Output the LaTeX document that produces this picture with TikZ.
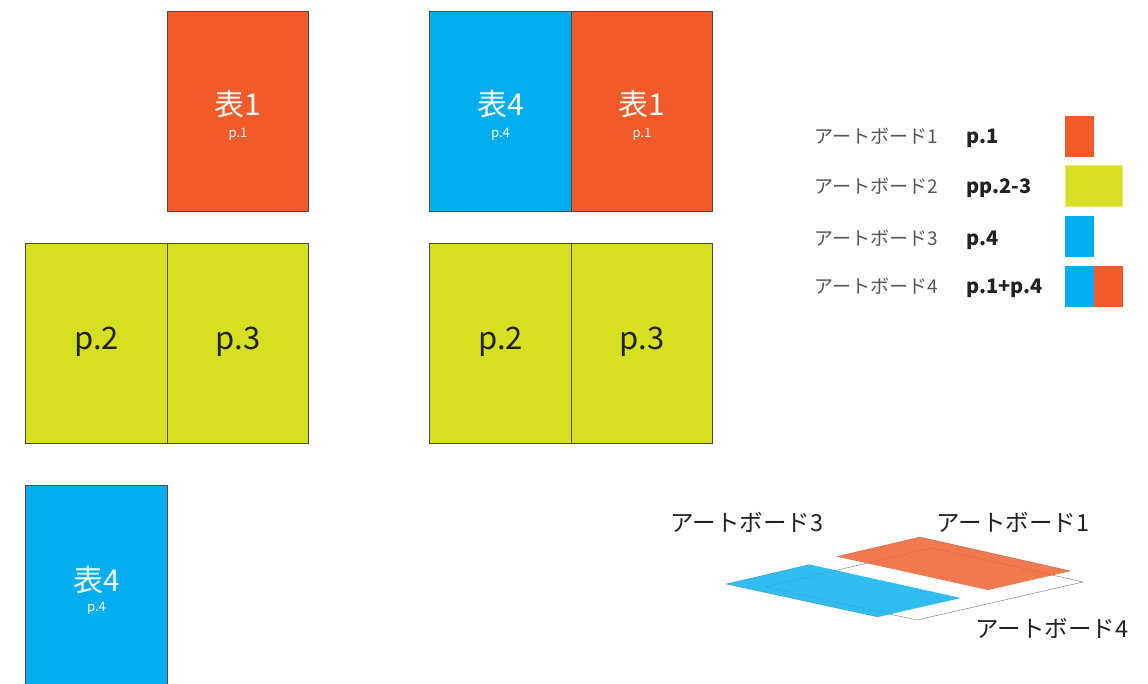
\documentclass[tikz,border=0pt]{standalone}
\usepackage{fontspec}
\setmainfont{Noto Sans CJK JP}
\definecolor{cor}{HTML}{F15A29}
\definecolor{cbl}{HTML}{00AEEF}
\definecolor{cye}{HTML}{D7DF23}
\definecolor{isor}{HTML}{EE6638}
\definecolor{isbl}{HTML}{14B4EE}
\definecolor{edge}{HTML}{4A4A4A}
\definecolor{legtxt}{HTML}{555555}
\definecolor{dark}{HTML}{222222}
\begin{document}
\begin{tikzpicture}[x=1pt,y=-1pt,
  pagebox/.style={draw=edge, line width=0.7pt, inner sep=0, minimum width=141.5pt, minimum height=200pt},
  bigw/.style={text=white, inner sep=0, font=\fontsize{30}{30}\selectfont},
  smallw/.style={text=white, inner sep=0, font=\fontsize{13}{13}\selectfont},
  bigd/.style={text=dark, inner sep=0, font=\fontsize{31}{31}\selectfont},
  legk/.style={text=legtxt, inner sep=0, anchor=west, font=\fontsize{19}{19}\selectfont},
  legp/.style={text=dark, inner sep=0, anchor=west, font=\bfseries\fontsize{20}{20}\selectfont},
  isolab/.style={text=dark, inner sep=0, font=\fontsize{23.5}{23.5}\selectfont},
  swatch/.style={inner sep=0, minimum height=41pt},
  isoline/.style={black, opacity=0.5, line width=0.45pt},
  isoedge/.style={black, opacity=0.25, line width=0.4pt}
]
\useasboundingbox (0,0) rectangle (1148,683);
\clip (0,0) rectangle (1148,683);
% top-left single page
\node[pagebox, fill=cor] (p1a) at (238,111) {};
\node[bigw] (t1a) at (238,104) {表1};
\node[smallw] (s1a) at (238,134) {p.1};
% cover spread
\node[pagebox, fill=cbl] (p4b) at (500.5,111) {};
\node[pagebox, fill=cor] (p1b) at (642,111) {};
\node[bigw] (t4b) at (500.5,104) {表4};
\node[smallw] (s4b) at (500.5,134) {p.4};
\node[bigw] (t1b) at (642,104) {表1};
\node[smallw] (s1b) at (642,134) {p.1};
% inner spread left
\node[pagebox, fill=cye] (p2a) at (96.5,343) {};
\node[pagebox, fill=cye] (p3a) at (238,343) {};
\node[bigd] (t2a) at (96.5,342) {p.2};
\node[bigd] (t3a) at (238,342) {p.3};
% inner spread right
\node[pagebox, fill=cye] (p2b) at (500.5,343) {};
\node[pagebox, fill=cye] (p3b) at (642,343) {};
\node[bigd] (t2b) at (500.5,342) {p.2};
\node[bigd] (t3b) at (642,342) {p.3};
% bottom single page
\node[pagebox, fill=cbl] (p4c) at (96.5,585) {};
\node[bigw] (t4c) at (96.5,580) {表4};
\node[smallw] (s4c) at (96.5,608) {p.4};
% legend
\node[legk] (l1) at (814,136) {アートボード1};
\node[legk] (l2) at (814,186) {アートボード2};
\node[legk] (l3) at (814,238) {アートボード3};
\node[legk] (l4) at (814,286) {アートボード4};
\node[legp] (q1) at (966,138) {p.1};
\node[legp] (q2) at (966,188) {pp.2-3};
\node[legp] (q3) at (966,240) {p.4};
\node[legp] (q4) at (966,288) {p.1+p.4};
\node[swatch, fill=cor, minimum width=29pt] (w1) at (1079.5,136.5) {};
\node[swatch, fill=cye, draw=cye!60!white, line width=0.6pt, minimum width=57pt] (w2) at (1093.5,186) {};
\node[swatch, fill=cbl, minimum width=29pt] (w3) at (1079.5,236.5) {};
\node[swatch, fill=cbl, minimum width=29pt] (w4a) at (1079.5,286.5) {};
\node[swatch, fill=cor, minimum width=28.5pt] (w4b) at (1108.25,286.5) {};
% isometric sketch
\coordinate (A) at (932,548);
\coordinate (B) at (1083,582);
\coordinate (C) at (917,620);
\coordinate (D) at (765,587);
\coordinate (M1) at (848.5,567.5);
\coordinate (M2) at (1000,601);
\draw[isoline] (A) -- (B) -- (C) -- (D) -- cycle;
\fill[isor, opacity=0.88] ([shift={(-12,-11)}]A) -- ([shift={(-12,-11)}]B) -- ([shift={(-12,-11)}]M2) -- ([shift={(-12,-11)}]M1) -- cycle;
\draw[isoedge] ([shift={(-12,-11)}]M1) -- ([shift={(-12,-11)}]A) -- ([shift={(-12,-11)}]B);
\fill[isbl, opacity=0.88] ([shift={(-39,-3)}]M1) -- ([shift={(-39,-3)}]M2) -- ([shift={(-39,-3)}]C) -- ([shift={(-39,-3)}]D) -- cycle;
\draw[isoedge] ([shift={(-39,-3)}]C) -- ([shift={(-39,-3)}]D) -- ([shift={(-39,-3)}]M1);
\node[isolab] (a3) at (747,522) {アートボード3};
\node[isolab] (a1) at (1013,522) {アートボード1};
\node[isolab] (a4) at (1052,628) {アートボード4};
\end{tikzpicture}
\end{document}
